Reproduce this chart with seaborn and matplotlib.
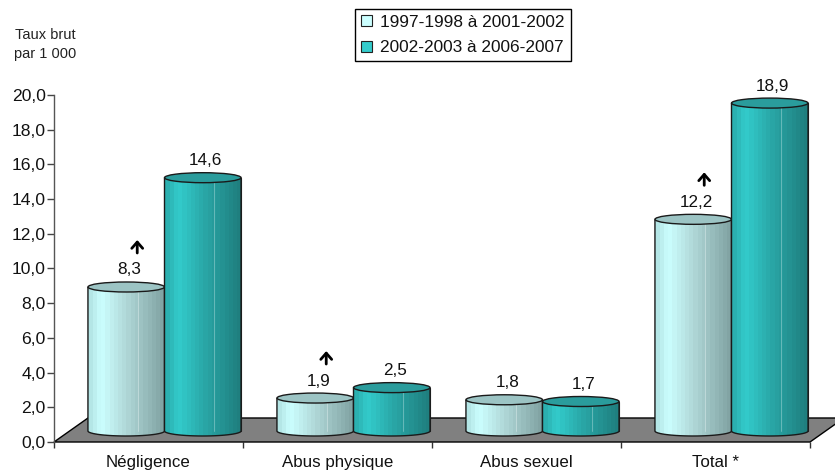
import numpy as np
import pandas as pd
import seaborn as sns
import matplotlib.pyplot as plt
from matplotlib.colors import LinearSegmentedColormap
from matplotlib.patches import Ellipse, PathPatch, Polygon
from matplotlib.path import Path
from matplotlib.ticker import FuncFormatter, FixedLocator
from matplotlib.transforms import offset_copy

categories = ["Négligence", "Abus physique", "Abus sexuel", "Total *"]
periods = ["1997-1998 à 2001-2002", "2002-2003 à 2006-2007"]
values_first = [8.3, 1.9, 1.8, 12.2]
values_second = [14.6, 2.5, 1.7, 18.9]
rising = [True, True, False, True]
y_ticks = list(range(0, 21, 2))

W, H = 835, 472
LEFT, RIGHT, BOTTOM, TOP = 54, 810, 442, 95
UNIT = (BOTTOM - TOP) / 20
CAT_PX = (RIGHT - LEFT) / 4

sns.set_style("white")
plt.rcParams["font.family"] = ["Liberation Sans", "DejaVu Sans"]

df = pd.DataFrame({
    "categorie": categories * 2,
    "periode": [periods[0]] * 4 + [periods[1]] * 4,
    "taux": values_first + values_second,
})

fig = plt.figure(figsize=(W / 100, H / 100), dpi=100)
ax = fig.add_axes([LEFT / W, 1 - BOTTOM / H, (RIGHT - LEFT) / W, (BOTTOM - TOP) / H])

sns.barplot(data=df, x="categorie", y="taux", hue="periode", hue_order=periods,
            palette=["#CCFFFF", "#33CCCC"], width=0.81, saturation=1,
            edgecolor="#222222", linewidth=0.8, ax=ax, zorder=2)

ax.set_xlabel("")
ax.set_ylabel("")

# plancher gris en perspective
depth_x = 34 / CAT_PX
depth_y = 24 / UNIT
floor = Polygon([(-0.5, 0), (3.5, 0), (3.5 + depth_x, depth_y), (-0.5 + depth_x, depth_y)],
                closed=True, facecolor="#808080", edgecolor="black", lw=1, zorder=1, clip_on=False)
ax.add_patch(floor)

maps = [
    LinearSegmentedColormap.from_list("clair", [(0, "#B4E6E6"), (0.15, "#CCFFFF"), (0.5, "#B0D8D8"), (1, "#82A4A4")], N=18),
    LinearSegmentedColormap.from_list("fonce", [(0, "#2BB0B0"), (0.15, "#33CCCC"), (0.5, "#2AA8A8"), (1, "#1F7F7F")], N=18),
]
top_colors = ["#9CC4C4", "#2A9C9C"]

base = 11 / UNIT
shift = 16 / CAT_PX
half = 5 / UNIT
z = 3
labels_info = []

for s, container in enumerate(ax.containers):
    for i, bar in enumerate(container):
        bar.set_x(bar.get_x() + shift)
        bar.set_y(base)
        x0 = bar.get_x()
        w = bar.get_width()
        top = base + bar.get_height()
        xc = x0 + w / 2

        t = np.linspace(np.pi, 2 * np.pi, 40)
        arc_x = xc + w / 2 * np.cos(t)
        arc_y = base + half * np.sin(t)
        body = np.column_stack([np.r_[x0, arc_x, x0 + w, x0], np.r_[top, arc_y, top, top]])

        img = ax.imshow(np.linspace(0, 1, 128)[None, :], cmap=maps[s], aspect="auto",
                        extent=[x0, x0 + w, base - half, top], zorder=z, interpolation="nearest")
        img.set_clip_path(PathPatch(Path(body), transform=ax.transData))

        # reflets verticaux
        ax.plot([x0 + 0.65 * w] * 2, [base, top], color="white", lw=0.6, alpha=0.35, zorder=z + 0.1)

        outline = Path(np.column_stack([np.r_[x0, arc_x, x0 + w], np.r_[top, arc_y, top]]))
        ax.add_patch(PathPatch(outline, fill=False, edgecolor="#1A1A1A", lw=1, zorder=z + 0.2))
        ax.add_patch(Ellipse((xc, top), w, 2 * half, facecolor=top_colors[s],
                             edgecolor="#1A1A1A", lw=1, zorder=z + 0.3, clip_on=False))
        labels_info.append((xc, top, s, i))
        z += 1

ax.set_xlim(-0.5, 3.5)
ax.set_ylim(0, 20)

for xc, top, s, i in labels_info:
    val = (values_first if s == 0 else values_second)[i]
    ax.annotate(f"{val:.1f}".replace(".", ","), (xc, top), xytext=(3, 17), textcoords="offset pixels",
                ha="center", va="center", fontsize=12.3, color="#111111", zorder=60)
    if s == 0 and rising[i]:
        tail = offset_copy(ax.transData, fig=fig, x=11, y=34, units="dots")
        tip = offset_copy(ax.transData, fig=fig, x=11, y=47, units="dots")
        ax.annotate("", xy=(xc, top), xycoords=tip, xytext=(xc, top), textcoords=tail, zorder=60,
                    annotation_clip=False,
                    arrowprops=dict(arrowstyle="->,head_length=0.32,head_width=0.28", lw=2,
                                    color="black", shrinkA=0, shrinkB=0, mutation_scale=14))

# axes
sns.despine(ax=ax, top=True, right=True, bottom=True)
ax.spines["left"].set_color("#555555")
ax.spines["left"].set_linewidth(1)
ax.yaxis.set_major_locator(FixedLocator(y_ticks))
ax.yaxis.set_major_formatter(FuncFormatter(lambda v, p: f"{v:.1f}".replace(".", ",")))
ax.tick_params(axis="y", left=True, length=5, width=1, color="#444444", labelsize=12.6, pad=1, labelcolor="#111111")
ax.tick_params(axis="x", which="major", bottom=False, labelsize=12.2, pad=6, labelcolor="#111111")
ax.set_xticks(np.arange(-0.5, 4), minor=True)
ax.tick_params(axis="x", which="minor", bottom=True, length=4, width=1, color="#333333")

handles, names = ax.get_legend_handles_labels()
ax.legend(handles, names, loc="upper left", bbox_to_anchor=(355 / W, 1 - 9 / H),
          bbox_transform=fig.transFigure, frameon=True, fancybox=False, framealpha=1,
          edgecolor="black", fontsize=12.4, handlelength=0.65, handleheight=0.65,
          handletextpad=0.5, labelspacing=0.62, borderpad=0.33, borderaxespad=0, labelcolor="#111111")
ax.get_legend().get_frame().set_linewidth(1)
ax.get_legend().set_zorder(70)

fig.text(45 / W, 1 - 35 / H, "Taux brut", fontsize=10.5, ha="center", va="center", color="#222222")
fig.text(45 / W, 1 - 54 / H, "par 1 000", fontsize=10.5, ha="center", va="center", color="#222222")

fig.savefig("out.png", dpi=100)
